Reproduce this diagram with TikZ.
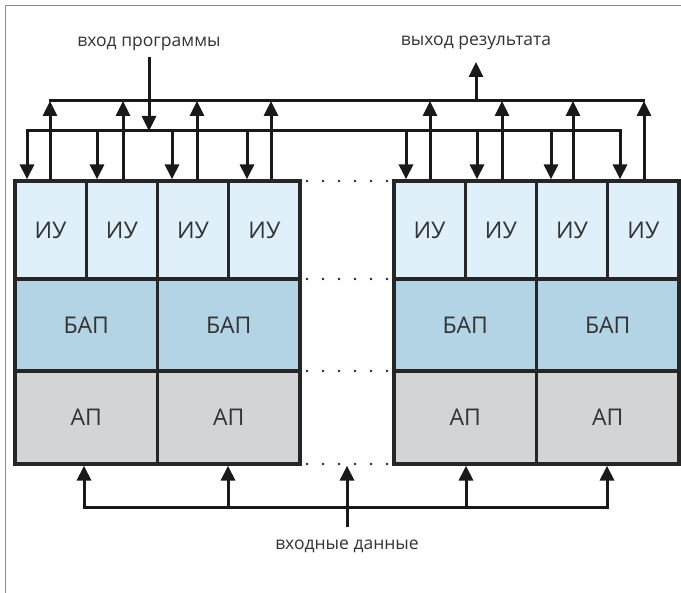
\documentclass[tikz,border=0pt]{standalone}
\usepackage{fontspec}
\setmainfont{Open Sans}
\usetikzlibrary{arrows.meta,calc}
\definecolor{iucol}{HTML}{DFF0FA}
\definecolor{bapcol}{HTML}{B3D4E4}
\definecolor{apcol}{HTML}{D3D4D6}
\definecolor{txt}{HTML}{333333}
\definecolor{framecol}{HTML}{8A8A8A}
\tikzset{
  cell/.style={draw=black!85, line width=3.2pt, inner sep=0pt, text=txt, font=\fontsize{23}{25}\selectfont},
  iu/.style={cell, fill=iucol, minimum width=71.25pt, minimum height=98pt},
  bap/.style={cell, fill=bapcol, minimum width=142.5pt, minimum height=92pt},
  ap/.style={cell, fill=apcol, minimum width=142.5pt, minimum height=93pt},
  lbl/.style={text=txt, font=\fontsize{17.5}{19}\selectfont, inner sep=0pt},
  conn/.style={draw=black!90, line width=3pt},
  arr/.style={conn, -{Triangle[width=14pt,length=15pt]}},
  arrb/.style={conn, {Triangle[width=14pt,length=15pt]}-{Triangle[width=14pt,length=15pt]}},
  dot/.style={fill=black!85, circle, inner sep=0pt, minimum size=2.8pt}
}
\begin{document}
\begin{tikzpicture}[x=1pt,y=-1pt]
\useasboundingbox (0,0) rectangle (681,593);
% frame
\draw[framecol, line width=1.4pt] (5.5,593) -- (5.5,5.5) -- (681,5.5);

% left block
\node[iu] (a1) at (50.6,230) {ИУ};
\node[iu] (a2) at (121.9,230) {ИУ};
\node[iu] (a3) at (193.1,230) {ИУ};
\node[iu] (a4) at (264.4,230) {ИУ};
\node[bap] (b1) at (86.25,325) {БАП};
\node[bap] (b2) at (228.75,325) {БАП};
\node[ap] (c1) at (86.25,417.5) {АП};
\node[ap] (c2) at (228.75,417.5) {АП};
% right block
\node[iu] (a5) at (429.6,230) {ИУ};
\node[iu] (a6) at (500.9,230) {ИУ};
\node[iu] (a7) at (572.1,230) {ИУ};
\node[iu] (a8) at (643.4,230) {ИУ};
\node[bap] (b3) at (465.25,325) {БАП};
\node[bap] (b4) at (607.75,325) {БАП};
\node[ap] (c3) at (465.25,417.5) {АП};
\node[ap] (c4) at (607.75,417.5) {АП};

% dots between blocks
\foreach \yy in {181,279,371,464}{
  \foreach \xx in {307,323,339,355,371,387}{
    \node[dot] at (\xx,\yy) {};
  }
}

% labels
\node[lbl] (inprog) at (149,44) {вход программы};
\node[lbl] (outres) at (476,43) {выход результата};
\node[lbl] (indata) at (347,546) {входные данные};

% bus coordinates
\coordinate (ub) at (49,101);
\coordinate (ube) at (645,101);
\coordinate (lb) at (27,131);
\coordinate (lbe) at (620,131);
\coordinate (inprogtop) at (149,57);
\coordinate (outtip) at (476,62);
\coordinate (bb) at (84,508);
\coordinate (bbe) at (607,508);
\coordinate (indatatop) at (347,527);

% upper bus (results)
\draw[conn] (ub) -- (ube);
\draw[arr] (ub -| 476,0) -- (outtip);
\foreach \n/\xx in {a1/50,a2/123,a3/197,a4/271,a5/430,a6/502,a7/573,a8/644}{
  \draw[arr] (\n.north -| \xx,0) -- (ub -| \xx,0);
}

% lower bus (program)
\draw[arrb] (lb |- a1.north) -- (lb) -- (lbe) -- (lbe |- a8.north);
\draw[arr] (inprogtop) -- (lb -| inprogtop);
\foreach \n/\xx in {a2/97,a3/172,a4/247,a5/406,a6/477,a7/551}{
  \draw[arr] (lb -| \xx,0) -- (\n.north -| \xx,0);
}

% bottom bus (input data)
\draw[arrb] (bb |- c1.south) -- (bb) -- (bbe) -- (bbe |- c4.south);
\draw[arr] (bb -| 228,0) -- (c2.south -| 228,0);
\draw[arr] (bb -| 466,0) -- (c3.south -| 466,0);
\draw[arr] (indatatop) -- (indatatop |- c1.south);
\end{tikzpicture}
\end{document}
